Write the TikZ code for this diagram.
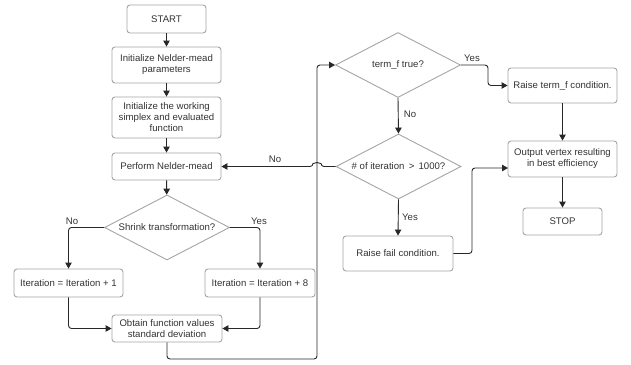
\documentclass[tikz,border=0pt]{standalone}
\usepackage{fontspec}
\setmainfont{Liberation Sans}
\usetikzlibrary{shapes.geometric,arrows.meta}
\definecolor{boxline}{RGB}{165,165,165}
\definecolor{txt}{RGB}{51,51,51}
\definecolor{conn}{RGB}{40,40,40}
\begin{document}
\begin{tikzpicture}[x=1pt,y=-1pt,
  every node/.style={font=\fontsize{9.6}{11}\selectfont,text=txt},
  box/.style={draw=boxline,line width=0.9pt,rounded corners=3pt,rectangle,inner sep=0pt,align=center,fill=white},
  dia/.style={draw=boxline,line width=0.9pt,diamond,aspect=1.92,inner sep=0pt,minimum width=125pt,minimum height=65pt,fill=white,align=center},
  conn/.style={draw=conn,line width=0.9pt,rounded corners=3pt,-{Triangle[length=6pt,width=6.5pt]}},
  lbl/.style={inner sep=0pt}]
\useasboundingbox (0,0) rectangle (631,364);
% nodes
\node[box,minimum width=79pt,minimum height=28pt] (start) at (166.5,19) {START};
\node[box,minimum width=109pt,minimum height=36pt] (init1) at (166.5,65) {Initialize Nelder-mead\\parameters};
\node[box,minimum width=109pt,minimum height=41pt] (init2) at (166.5,117.5) {Initialize the working\\simplex and evaluated\\function};
\node[box,minimum width=109pt,minimum height=27pt] (perf) at (166.5,166.5) {Perform Nelder-mead};
\node[dia] (shrink) at (167,227.5) {Shrink transformation?};
\node[box,minimum width=109pt,minimum height=28pt] (it1) at (68.5,283) {Iteration = Iteration + 1};
\node[box,minimum width=110pt,minimum height=28pt] (it8) at (260,283) {Iteration = Iteration + 8};
\node[box,minimum width=110pt,minimum height=27pt] (obt) at (167,328.5) {Obtain function values\\standard deviation};
\node[dia] (termf) at (398,65) {term\_f true?};
\node[dia] (iterq) at (398.5,166.5) {\# of iteration \,>\, 1000?};
\node[box,minimum width=109pt,minimum height=35pt] (raiset) at (562.5,85.5) {Raise term\_f condition.};
\node[box,minimum width=109pt,minimum height=36pt] (outv) at (562.5,159) {Output vertex resulting\\in best efficiency};
\node[box,minimum width=79pt,minimum height=27pt] (stop) at (562.5,221.5) {STOP};
\node[box,minimum width=110pt,minimum height=35pt] (fail) at (398,253.5) {Raise fail condition.};
% waypoints
\coordinate (b1) at (167,359);
\coordinate (b2) at (317,359);
\coordinate (b3) at (317,65);
\coordinate (y1) at (488,65);
\coordinate (y2) at (488,85.5);
\coordinate (f1) at (472,253.5);
\coordinate (f2) at (472,168);
\coordinate (f3) at (508,168);
\coordinate (h1) at (321,166.5);
% connectors
\draw[conn] (start) -- (init1);
\draw[conn] (init1) -- (init2);
\draw[conn] (init2) -- (perf);
\draw[conn] (perf) -- (shrink);
\draw[conn] (shrink.west) -| (it1.north);
\draw[conn] (shrink.east) -| (it8.north);
\draw[conn] (it1.south) |- (obt.west);
\draw[conn] (it8.south) |- (obt.east);
\draw[conn] (obt.south) -- (b1) -- (b2) -- (b3) -- (termf.west);
\draw[conn] (termf.east) -- (y1) -- (y2) -- (raiset.west);
\draw[conn] (termf.south) -- (iterq.north);
\draw[conn] (iterq.west) -- (h1) arc[start angle=0,end angle=-180,radius=4] -- (perf.east);
\draw[conn] (iterq.south) -- (fail.north);
\draw[conn] (fail.east) -- (f1) -- (f2) -- (f3);
\draw[conn] (raiset) -- (outv);
\draw[conn] (outv) -- (stop);
% labels
\node[lbl] (lno1) at (72,221) {No};
\node[lbl] (lyes1) at (259,221) {Yes};
\node[lbl] (lyes2) at (472,58.5) {Yes};
\node[lbl] (lno2) at (410,114) {No};
\node[lbl] (lno3) at (275,159) {No};
\node[lbl] (lyes3) at (410,217) {Yes};
\end{tikzpicture}
\end{document}
